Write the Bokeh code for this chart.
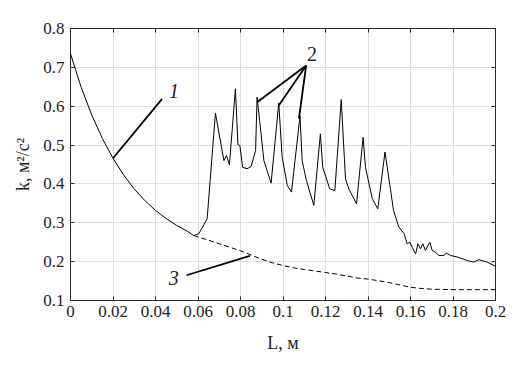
from bokeh.plotting import figure
from bokeh.models import Range1d, FixedTicker, LinearAxis, NumeralTickFormatter, ColumnDataSource
from bokeh.core.properties import value
from bokeh.embed import file_html
from bokeh.resources import INLINE

# ---- data ----
x_ticks = [0, 0.02, 0.04, 0.06, 0.08, 0.1, 0.12, 0.14, 0.16, 0.18, 0.2]
y_ticks = [0.1, 0.2, 0.3, 0.4, 0.5, 0.6, 0.7, 0.8]
tick_format = "0.[00]"   # gives 0, 0.02, ..., 0.1, ..., 0.2

# curve 1 (solid, decaying)
c1_L = [0, 0.005, 0.01, 0.015, 0.02, 0.025, 0.03, 0.035, 0.04, 0.045, 0.05, 0.055, 0.058]
c1_k = [0.735, 0.649, 0.577, 0.517, 0.466, 0.423, 0.387, 0.357, 0.332, 0.311, 0.293, 0.278, 0.267]

# curve 2 (solid, with peaks)
c2_L = [0.058, 0.0604, 0.0643, 0.0682, 0.0722, 0.0734, 0.0748, 0.0776, 0.0788, 0.0797,
        0.0810, 0.0831, 0.0850, 0.0871, 0.0878, 0.0890, 0.0910, 0.0944, 0.0980, 0.0996,
        0.1020, 0.1040, 0.1080, 0.1090, 0.1110, 0.1145, 0.1176, 0.1187, 0.1220, 0.1244,
        0.1274, 0.1294, 0.1310, 0.1346, 0.1377, 0.1388, 0.1420, 0.1446, 0.1480, 0.1506,
        0.1520, 0.1545, 0.1570, 0.1584, 0.1597, 0.1608, 0.1624, 0.1635, 0.1647, 0.1658,
        0.1670, 0.1691, 0.1702, 0.1718, 0.1733, 0.1757, 0.1768, 0.1788, 0.1820, 0.1867,
        0.1898, 0.1922, 0.1960, 0.2000]
c2_k = [0.267, 0.272, 0.310, 0.582, 0.460, 0.473, 0.449, 0.645, 0.501, 0.499,
        0.443, 0.439, 0.445, 0.486, 0.623, 0.563, 0.460, 0.402, 0.608, 0.469,
        0.396, 0.379, 0.575, 0.460, 0.409, 0.345, 0.529, 0.443, 0.387, 0.383,
        0.617, 0.413, 0.387, 0.349, 0.520, 0.443, 0.362, 0.336, 0.482, 0.385,
        0.332, 0.289, 0.272, 0.246, 0.250, 0.237, 0.220, 0.246, 0.233, 0.246,
        0.229, 0.250, 0.229, 0.224, 0.216, 0.216, 0.222, 0.216, 0.212, 0.203,
        0.199, 0.205, 0.199, 0.188]

# curve 3 (dashed)
c3_L = [0.058, 0.065, 0.07, 0.075, 0.08, 0.085, 0.09, 0.095, 0.1, 0.105, 0.11, 0.115,
        0.12, 0.125, 0.13, 0.135, 0.14, 0.145, 0.15, 0.155, 0.16, 0.165, 0.17, 0.18,
        0.19, 0.2]
c3_k = [0.267, 0.255, 0.246, 0.237, 0.228, 0.217, 0.206, 0.197, 0.190, 0.184, 0.180, 0.176,
        0.172, 0.168, 0.163, 0.158, 0.155, 0.151, 0.146, 0.140, 0.134, 0.131, 0.129, 0.128,
        0.128, 0.128]

# callout labels and leader lines
callout_text = ["1", "2", "3"]
callout_L = [0.0487, 0.1137, 0.0486]
callout_k = [0.640, 0.735, 0.159]
callout_style = ["italic", "normal", "italic"]
lead_L0 = [0.0200, 0.1109, 0.1109, 0.1109, 0.0546]
lead_k0 = [0.466, 0.705, 0.705, 0.705, 0.165]
lead_L1 = [0.0431, 0.0878, 0.0980, 0.1075, 0.0844]
lead_k1 = [0.619, 0.610, 0.602, 0.568, 0.215]

x_title = "L, м"
y_title = "k, м²/с²"

SERIF = "'Liberation Serif', 'Times New Roman', Times, serif"
INK = "#222222"

p = figure(width=528, height=363, x_range=Range1d(0, 0.2), y_range=Range1d(0.1, 0.8),
           output_backend="svg", toolbar_location=None,
           min_border_left=70, min_border_right=33, min_border_top=28, min_border_bottom=63)
p.background_fill_color = "white"
p.border_fill_color = "white"
p.outline_line_color = "#2a2a2a"
p.outline_line_width = 1

xt = FixedTicker(ticks=x_ticks, minor_ticks=[])
yt = FixedTicker(ticks=y_ticks, minor_ticks=[])

for ax, t in [(p.xaxis[0], xt), (p.yaxis[0], yt)]:
    ax.ticker = t
    ax.formatter = NumeralTickFormatter(format=tick_format)
    ax.axis_line_color = None
    ax.major_tick_in = 4
    ax.major_tick_out = 0
    ax.major_tick_line_color = "#2a2a2a"
    ax.minor_tick_line_color = None
    ax.major_label_text_font = SERIF
    ax.major_label_text_font_size = "17px"
    ax.major_label_text_font_style = "normal"
    ax.major_label_text_color = INK
    ax.axis_label_text_font = SERIF
    ax.axis_label_text_font_size = "18px"
    ax.axis_label_text_font_style = "normal"
    ax.axis_label_text_color = INK

p.xaxis[0].axis_label = x_title
p.yaxis[0].axis_label = y_title
p.xaxis[0].major_label_standoff = 5
p.yaxis[0].major_label_standoff = 6
p.xaxis[0].axis_label_standoff = 13
p.yaxis[0].axis_label_standoff = 7

for ticks, place in [(x_ticks, "above"), (y_ticks, "right")]:
    ax = LinearAxis(ticker=FixedTicker(ticks=ticks, minor_ticks=[]), axis_line_color=None,
                    major_tick_in=4, major_tick_out=0,
                    major_label_overrides={v: "" for v in ticks},
                    major_label_standoff=0,
                    major_tick_line_color="#2a2a2a", minor_tick_line_color=None)
    p.add_layout(ax, place)

p.xgrid.ticker = xt
p.ygrid.ticker = yt
p.xgrid.grid_line_color = "#dedede"
p.ygrid.grid_line_color = "#dedede"
p.xgrid.grid_line_width = 1
p.ygrid.grid_line_width = 1

# curves
p.line(c1_L, c1_k, line_color="black", line_width=1)
p.line(c3_L, c3_k, line_color="black", line_width=1, line_dash="5 3")
p.line(c2_L, c2_k, line_color="black", line_width=1)

# leader lines
p.segment(x0=lead_L0, y0=lead_k0, x1=lead_L1, y1=lead_k1, line_color="black", line_width=1.8)

# callout numbers
src = ColumnDataSource(dict(x=callout_L, y=callout_k, t=callout_text, s=callout_style))
p.text(x="x", y="y", text="t", source=src, text_font=value(SERIF), text_font_size="20px",
       text_font_style="s", text_align="center", text_baseline="middle", text_color=INK)

open("out.html", "w").write(file_html(p, INLINE))
